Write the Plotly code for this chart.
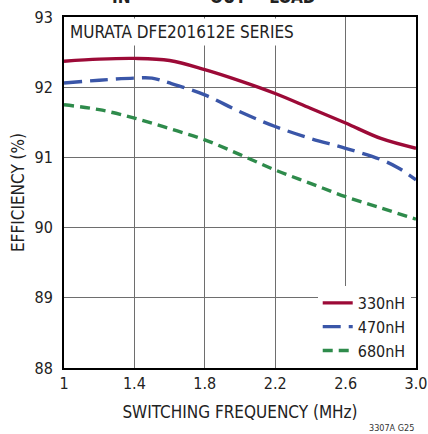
import plotly.graph_objects as go

freq = [1.0, 1.2, 1.4, 1.6, 1.8, 2.0, 2.2, 2.4, 2.6, 2.8, 3.0]
eff_330 = [92.37, 92.40, 92.41, 92.38, 92.25, 92.09, 91.91, 91.70, 91.49, 91.27, 91.13]
freq_470 = [1.0, 1.2, 1.4, 1.5, 1.6, 1.8, 2.0, 2.2, 2.4, 2.6, 2.8, 2.9, 3.0]
eff_470 = [92.06, 92.10, 92.13, 92.13, 92.06, 91.89, 91.65, 91.44, 91.27, 91.13, 90.97, 90.85, 90.68]
eff_680 = [91.75, 91.68, 91.56, 91.41, 91.25, 91.04, 90.82, 90.63, 90.44, 90.28, 90.12]

x_ticks = [1, 1.4, 1.8, 2.2, 2.6, 3.0]
x_ticklabels = ["1", "1.4", "1.8", "2.2", "2.6", "3.0"]
y_ticks = [88, 89, 90, 91, 92, 93]

FONT = "DejaVu Sans Condensed, Liberation Sans Narrow, sans-serif"

fig = go.Figure()
fig.add_trace(go.Scatter(x=freq, y=eff_330, mode="lines", name="330nH",
                         line=dict(color="#9C0A37", width=3.4, shape="spline")))
fig.add_trace(go.Scatter(x=freq_470, y=eff_470, mode="lines", name="470nH",
                         line=dict(color="#3A56A8", width=3.4, shape="spline", dash="18px,8px")))
fig.add_trace(go.Scatter(x=freq, y=eff_680, mode="lines", name="680nH",
                         line=dict(color="#2E8B4B", width=3.4, shape="spline", dash="10px,6px")))

fig.update_layout(
    width=428, height=434,
    margin=dict(l=64, r=12, t=17, b=66, autoexpand=False),
    paper_bgcolor="white", plot_bgcolor="white",
    font=dict(family=FONT, size=16, color="#222222"),
    showlegend=True,
    legend=dict(x=0.985, y=0.117, xanchor="right", yanchor="middle",
                bgcolor="white", borderwidth=0, font=dict(size=16),
                tracegroupgap=0),
    xaxis=dict(range=[1, 3], tickvals=x_ticks, ticktext=x_ticklabels,
               showgrid=True, gridcolor="#6e6e6e", gridwidth=1,
               showline=True, linecolor="black", linewidth=2, mirror=True,
               ticks="", zeroline=False, automargin=False,
               title=dict(text="SWITCHING FREQUENCY (MHz)", standoff=14,
                          font=dict(size=17))),
    yaxis=dict(range=[88, 93], tickvals=y_ticks,
               showgrid=True, gridcolor="#6e6e6e", gridwidth=1,
               showline=True, linecolor="black", linewidth=2, mirror=True,
               ticks="", zeroline=False, ticklabelstandoff=6, automargin=False,
               title=dict(text="EFFICIENCY (%)", standoff=6,
                          font=dict(size=17))),
)

fig.add_annotation(x=0, y=1, xref="paper", yref="paper", xanchor="left", yanchor="top",
                   text="MURATA DFE201612E SERIES", showarrow=False,
                   bgcolor="white", borderpad=3, xshift=2, yshift=-1,
                   font=dict(size=17, color="#222222"))
fig.add_annotation(x=1, y=0, xref="paper", yref="paper", xanchor="right", yanchor="top",
                   text="3307A G25", showarrow=False, yshift=-53, xshift=0,
                   font=dict(size=9, color="#333333"))
fig.add_annotation(x=(121 - 64) / 352, y=1.0, xref="paper", yref="paper",
                   xanchor="center", yanchor="bottom", yshift=8,
                   text="<b>IN</b>", showarrow=False, font=dict(size=17, color="#222222"))
fig.add_annotation(x=(263 - 64) / 352, y=1.0, xref="paper", yref="paper",
                   xanchor="center", yanchor="bottom", yshift=8,
                   text="<b>OUT = LOAD</b>", showarrow=False, font=dict(size=17, color="#222222"))

fig.write_html("out.html", config={"displayModeBar": False},
               post_script="document.body.style.margin='0';")
